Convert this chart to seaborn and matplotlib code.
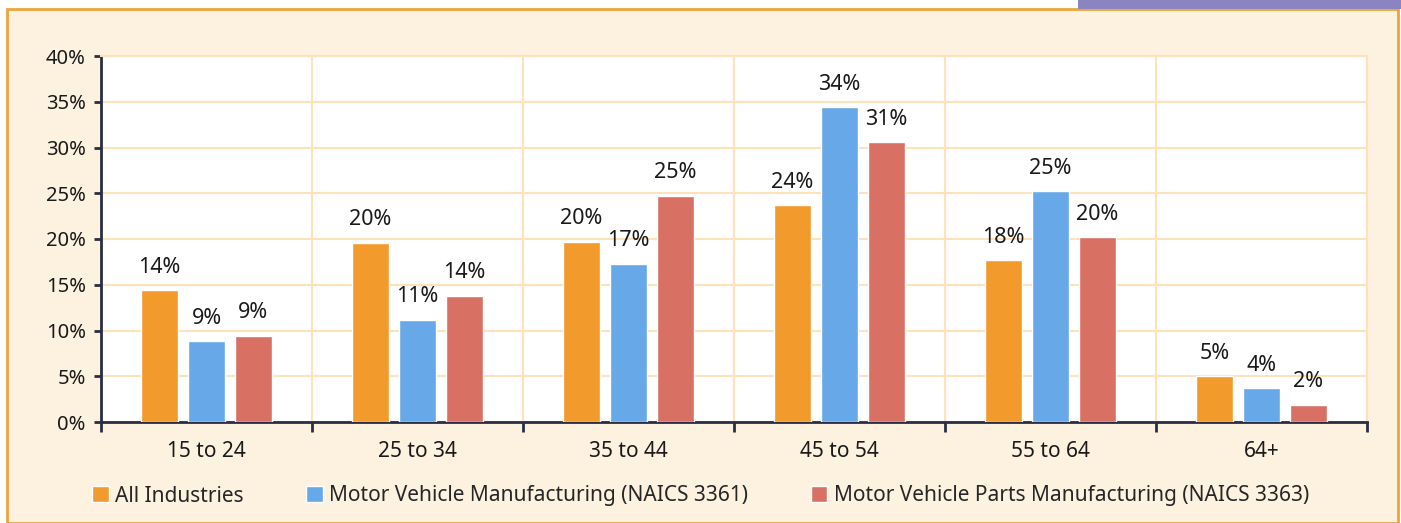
# Age distribution of workers by industry - grouped bar chart
import pandas as pd
import matplotlib.pyplot as plt
import seaborn as sns
from matplotlib.patches import Rectangle

# Data
age_groups = ['15 to 24', '25 to 34', '35 to 44', '45 to 54', '55 to 64', '64+']
series_names = ['All Industries',
                'Motor Vehicle Manufacturing (NAICS 3361)',
                'Motor Vehicle Parts Manufacturing (NAICS 3363)']
all_industries = [14.4, 19.6, 19.7, 23.7, 17.7, 5.0]
mv_manufacturing = [8.8, 11.2, 17.3, 34.4, 25.2, 3.7]
mv_parts = [9.4, 13.8, 24.7, 30.6, 20.2, 1.9]
y_ticks = [0, 5, 10, 15, 20, 25, 30, 35, 40]

colors = ['#f39a2c', '#66a8e8', '#d87064']

# Long-form table for seaborn
df = pd.DataFrame({
    'age': age_groups * 3,
    'series': [series_names[0]] * 6 + [series_names[1]] * 6 + [series_names[2]] * 6,
    'share': all_industries + mv_manufacturing + mv_parts,
})

sns.set_style('white')
plt.rcParams['font.family'] = ['Noto Sans', 'DejaVu Sans']

fig = plt.figure(figsize=(14.01, 5.23), dpi=100)
fig.patch.set_facecolor('white')

# cream panel with orange frame, purple tab at top right
fig.patches.append(Rectangle((7 / 1401, 0), 1391 / 1401, 514 / 523,
                             transform=fig.transFigure, facecolor='#fdf1e0',
                             edgecolor='#eda43a', linewidth=2, zorder=-5))
fig.patches.append(Rectangle((1078 / 1401, 514 / 523), 323 / 1401, 9 / 523,
                             transform=fig.transFigure, facecolor='#8a84c0',
                             edgecolor='none', zorder=-5))

ax = fig.add_axes([101 / 1401, 1 - 422 / 523, 1266 / 1401, 366 / 523])
ax.set_facecolor('white')

sns.barplot(data=df, x='age', y='share', hue='series', palette=colors,
            saturation=1, width=0.667, gap=0.2, ax=ax, zorder=3)

# value labels
for cont in ax.containers:
    labels = [f'{round(b.get_height()):.0f}%' for b in cont]
    ax.bar_label(cont, labels=labels, padding=9, fontsize=15.5, color='#1a1a1a')

ax.set_ylim(0, 40)
ax.set_xlim(-0.5, 5.5)
ax.set_yticks(y_ticks)
ax.set_yticklabels([f'{t}%' for t in y_ticks])
ax.set_xticks([i - 0.5 for i in range(7)], minor=True)

grid_col = '#fde2ba'
ax.grid(axis='y', which='major', color=grid_col, linewidth=1.5, zorder=0)
ax.grid(axis='x', which='minor', color=grid_col, linewidth=1.5, zorder=0)
ax.set_axisbelow(True)

for side in ['top', 'right']:
    ax.spines[side].set_color(grid_col)
    ax.spines[side].set_linewidth(1.5)
for side in ['left', 'bottom']:
    ax.spines[side].set_color('#2b2d42')
    ax.spines[side].set_linewidth(2)

ax.tick_params(axis='y', which='major', length=5, width=2, color='#2b2d42',
               labelsize=14.5, labelcolor='#1a1a1a', pad=6, left=True)
ax.tick_params(axis='x', which='major', length=0, labelsize=15,
               labelcolor='#1a1a1a', pad=14)
ax.tick_params(axis='x', which='minor', length=7, width=2, color='#2b2d42',
               bottom=True)

ax.set_xlabel('')
ax.set_ylabel('')

handles, lbls = ax.get_legend_handles_labels()
ax.legend(handles, lbls, loc='center', bbox_to_anchor=(0.5, 27 / 523),
          bbox_transform=fig.transFigure, ncol=3, frameon=False,
          fontsize=15, handlelength=0.8, handleheight=0.8, handletextpad=0.3,
          columnspacing=3.0)

fig.savefig('out.png', dpi=100, facecolor=fig.get_facecolor())
